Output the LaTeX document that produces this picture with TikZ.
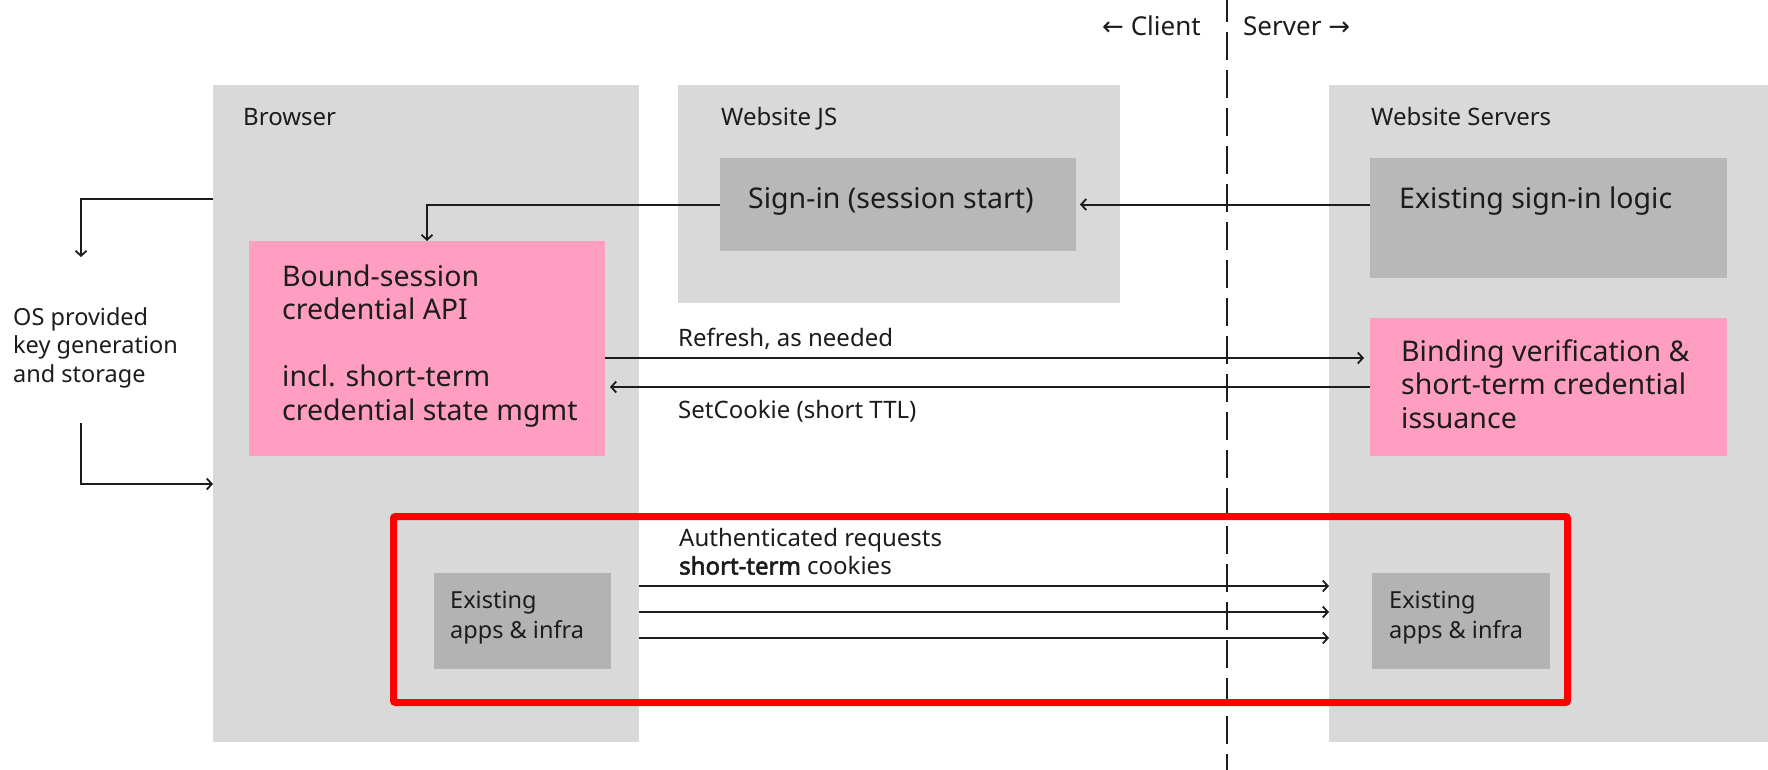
\documentclass[tikz,border=0pt]{standalone}
\usepackage{fontspec}
\setmainfont{Noto Sans}[AutoFakeBold=2.5]
\newfontfamily\arrowfont{DejaVu Sans}
\usetikzlibrary{arrows.meta}
\definecolor{panelgray}{HTML}{D9D9D9}
\definecolor{boxgray}{HTML}{B8B8B8}
\definecolor{appgray}{HTML}{B3B3B3}
\definecolor{pinkbox}{HTML}{FF9EC1}
\definecolor{ink}{HTML}{1C1C1C}
\newcommand\textlines[1]{\begin{tabular}[t]{@{}l@{}}#1\end{tabular}}
\begin{document}
\begin{tikzpicture}[x=1pt,y=-1pt,
  panelbox/.style={fill=panelgray, draw=none, anchor=north west, inner sep=0pt, outer sep=0pt},
  graybox/.style={fill=boxgray, draw=none, anchor=north west, inner sep=0pt, outer sep=0pt},
  appbox/.style={fill=appgray, draw=none, anchor=north west, inner sep=0pt, outer sep=0pt},
  pinkbox/.style={fill=pinkbox, draw=none, anchor=north west, inner sep=0pt, outer sep=0pt},
  smalltext/.style={anchor=base west, inner sep=0pt, text=ink, font=\fontsize{24}{28.5}\selectfont},
  bigtext/.style={anchor=base west, inner sep=0pt, text=ink, font=\fontsize{28.5}{33.5}\selectfont},
  arr/.style={draw=ink, line width=2pt, -{Straight Barb[length=5pt,width=11pt,line width=1.8pt]}},
]
\useasboundingbox (0,0) rectangle (1768,769);
\fill[white] (0,0) rectangle (1768,769);

% panels
\node[panelbox, minimum width=426pt, minimum height=657pt] (browser) at (213,85) {};
\node[panelbox, minimum width=442pt, minimum height=218pt] (webjs) at (678,85) {};
\node[panelbox, minimum width=440pt, minimum height=657pt] (servers) at (1329,85) {};

% inner boxes
\node[graybox, minimum width=356pt, minimum height=93pt] (signin) at (720,158) {};
\node[graybox, minimum width=357pt, minimum height=120pt] (existsign) at (1370,158) {};
\node[pinkbox, minimum width=356pt, minimum height=215pt] (bound) at (249,241) {};
\node[pinkbox, minimum width=357pt, minimum height=138pt] (binding) at (1370,318) {};
\node[appbox, minimum width=177pt, minimum height=96pt] (appsL) at (434,573) {};
\node[appbox, minimum width=178pt, minimum height=96pt] (appsR) at (1372,573) {};

% client / server divider
\draw[ink, line width=1.8pt, dash pattern=on 28pt off 10pt] (1227,-6) -- (1227,775);
\node[smalltext, font=\fontsize{26}{30}\selectfont] (clientlbl) at (1102,35) {{\arrowfont\fontsize{26}{30}\selectfont ←} Client};
\node[smalltext, font=\fontsize{26}{30}\selectfont] (serverlbl) at (1243,35) {Server {\arrowfont\fontsize{26}{30}\selectfont →}};

% panel titles
\node[smalltext] (browserlbl) at (243,125) {Browser};
\node[smalltext] (webjslbl) at (721,125) {Website JS};
\node[smalltext] (serverslbl) at (1371,125) {Website Servers};

% box texts
\node[bigtext] (signintxt) at (748,208) {Sign-in (session start)};
\node[bigtext] (existsigntxt) at (1399,208) {Existing sign-in logic};
\node[bigtext] (boundtxt) at (282,286) {\textlines{Bound-session\\credential API\\ \\incl. short-term\\credential state mgmt}};
\node[bigtext] (bindingtxt) at (1401,361) {\textlines{Binding verification \&\\short-term credential\\issuance}};
\node[smalltext, font=\fontsize{23.5}{30}\selectfont] (appsLtxt) at (450,608) {\textlines{Existing\\apps \& infra}};
\node[smalltext, font=\fontsize{23.5}{30}\selectfont] (appsRtxt) at (1389,608) {\textlines{Existing\\apps \& infra}};
\node[smalltext, font=\fontsize{23.5}{28.5}\selectfont] (ostxt) at (13,325) {\textlines{OS provided\\key generation\\and storage}};

% edge labels
\node[smalltext] (refreshlbl) at (678,346) {Refresh, as needed};
\node[smalltext] (setcookielbl) at (678,418) {SetCookie (short TTL)};
\node[smalltext] (authlbl) at (679,546) {\textlines{Authenticated requests\\\textbf{short-term} cookies}};

% connectors
\coordinate (osTop) at (81,257);
\coordinate (osBot) at (81,423);
\coordinate (brOut) at ([yshift=-114pt]browser.north west);
\coordinate (brIn) at ([yshift=-399pt]browser.north west);
\draw[arr] (brOut) -| (osTop);
\draw[arr] (osBot) |- (brIn);

\draw[arr, shorten >=4pt] (existsign.west |- signin.east) -- (signin.east);
\draw[arr] (signin.west) -| (bound.north);

\coordinate (refreshStart) at ([yshift=-9.5pt]bound.east);
\draw[arr, shorten >=6pt] (refreshStart) -- (refreshStart -| binding.west);
\draw[arr, shorten >=5pt] (binding.west) -- (binding.west -| bound.east);

\coordinate (req1) at ([yshift=156pt]browser.south east);
\coordinate (req2) at ([yshift=130pt]browser.south east);
\coordinate (req3) at ([yshift=104pt]browser.south east);
\draw[arr] (req1) -- (req1 -| servers.west);
\draw[arr] (req2) -- (req2 -| servers.west);
\draw[arr] (req3) -- (req3 -| servers.west);

% highlight
\node[draw=red, line width=7pt, rounded corners=2pt, anchor=north west, inner sep=0pt,
      minimum width=1174pt, minimum height=186pt] (highlight) at (390,513) {};
\end{tikzpicture}
\end{document}
